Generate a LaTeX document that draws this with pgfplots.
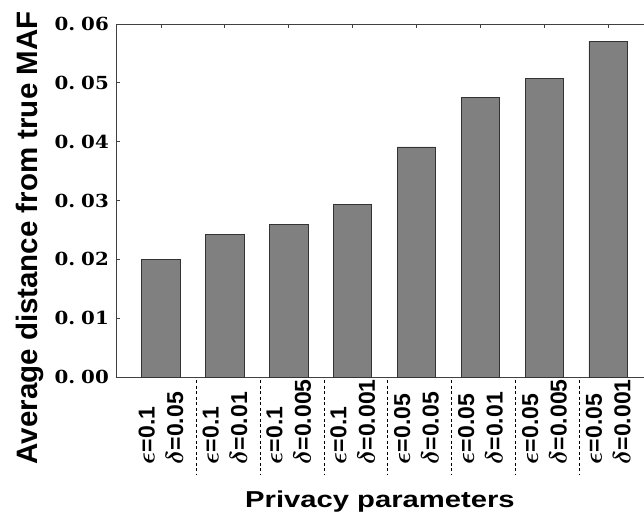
\documentclass[border=0pt]{standalone}
\usepackage{fontspec}
\setmainfont{Liberation Sans}
\newfontfamily\numfont{DejaVu Serif}
\usepackage{pgfplots}
\pgfplotsset{compat=1.18}
\begin{document}
\begin{tikzpicture}
\begin{axis}[
  scale only axis, width=528pt, height=353pt,
  xmin=-0.704, xmax=7.56, ymin=0, ymax=0.06,
  scaled y ticks=false,
  axis x line=box, axis y line=left,
  axis line style={-, black!75, line width=0.9pt},
  tick align=inside, major tick length=4pt,
  tick style={black!75, line width=0.8pt},
  xtick={0,1,2,3,4,5,6,7},
  xticklabels={{$\epsilon$=0.1\\$\delta$=0.05},{$\epsilon$=0.1\\$\delta$=0.01},{$\epsilon$=0.1\\$\delta$=0.005},{$\epsilon$=0.1\\$\delta$=0.001},{$\epsilon$=0.05\\$\delta$=0.05},{$\epsilon$=0.05\\$\delta$=0.01},{$\epsilon$=0.05\\$\delta$=0.005},{$\epsilon$=0.05\\$\delta$=0.001}},
  xticklabel style={rotate=90, anchor=east, inner sep=0pt, text width=87pt, align=left,
    font=\fontsize{23}{28.5}\selectfont\bfseries\boldmath},
  ytick={0,0.01,0.02,0.03,0.04,0.05,0.06},
  yticklabels={{0.\hspace{0.3em}00},{0.\hspace{0.3em}01},{0.\hspace{0.3em}02},{0.\hspace{0.3em}03},{0.\hspace{0.3em}04},{0.\hspace{0.3em}05},{0.\hspace{0.3em}06}},
  yticklabel style={anchor=east, inner sep=0pt, xshift=-7pt, xscale=1.1,
    font=\numfont\bfseries\fontsize{18}{20}\selectfont},
  xlabel={Privacy parameters},
  xlabel style={at={(axis description cs:0.5,0)}, anchor=base, yshift=-130.3pt, xscale=1.27,
    font=\fontsize{23}{26}\selectfont\bfseries},
  ylabel={Average distance from true MAF},
  ylabel style={at={(axis description cs:-0.149,0.394)}, anchor=base,
    font=\fontsize{29.5}{32}\selectfont\bfseries},
  clip=false,
]
\addplot[ybar, bar width=38.5pt, fill=gray, draw=black!80, line width=0.9pt]
  coordinates {(0,0.0200) (1,0.0243) (2,0.0260) (3,0.0294) (4,0.0391) (5,0.0475) (6,0.0507) (7,0.0571)};
\pgfplotsinvokeforeach{0.55,1.55,2.55,3.55,4.55,5.55,6.55}{
  \draw[black, line width=0.8pt, dash pattern=on 3pt off 2.5pt] ([yshift=-3pt]axis cs:#1,0) -- ([yshift=-98pt]axis cs:#1,0);
}
\coordinate (bl) at (rel axis cs:0,0);
\coordinate (tr) at (rel axis cs:1,1);
\end{axis}
\pgfresetboundingbox
\path[use as bounding box] ([shift={(-116pt,-140pt)}]bl) rectangle ([shift={(0pt,24pt)}]tr);
\end{tikzpicture}
\end{document}
